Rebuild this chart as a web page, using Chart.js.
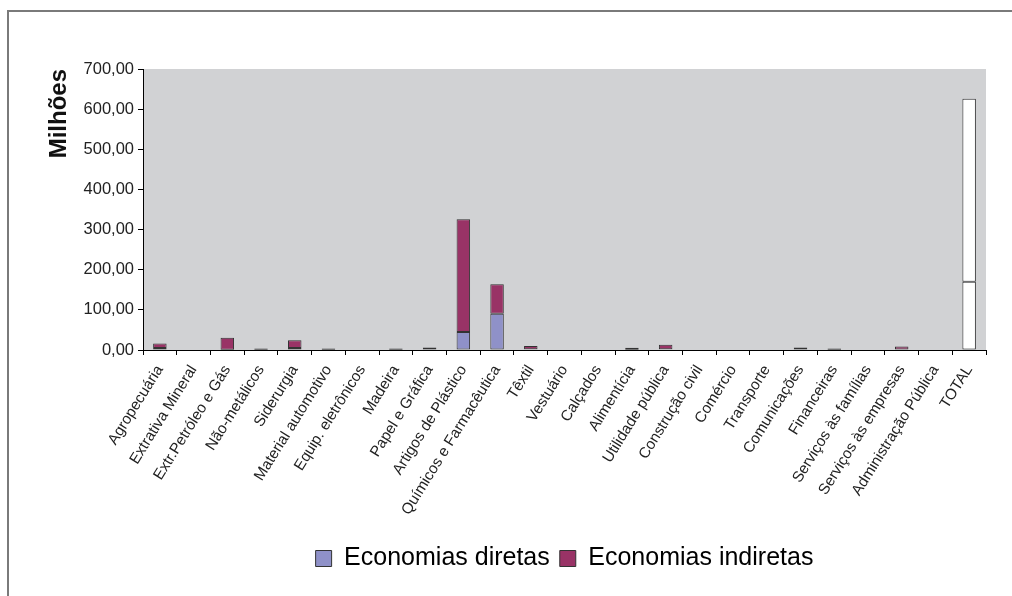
<!DOCTYPE html>
<html>
<head>
<meta charset="utf-8">
<script src="https://cdn.jsdelivr.net/npm/chart.js@4.4.0/dist/chart.umd.min.js"></script>
<style>
  html, body { margin: 0; padding: 0; background: #fff; }
  #wrap { position: relative; width: 1012px; height: 596px; overflow: hidden; }
  #frame { position: absolute; left: 7px; top: 10px; width: 1100px; height: 700px;
           border-top: 2px solid #7a7a7a; border-left: 2px solid #7a7a7a; }
  canvas { position: absolute; left: 0; top: 0; }
</style>
</head>
<body>
<div id="wrap">
  <div id="frame"></div>
  <canvas id="chart" width="1012" height="596"></canvas>
</div>
<script>
const setores = [
  'Agropecuária', 'Extrativa Mineral', 'Extr.Petróleo e Gás', 'Não-metálicos',
  'Siderurgia', 'Material automotivo', 'Equip. eletrônicos', 'Madeira',
  'Papel e Gráfica', 'Artigos de Plástico', 'Químicos e Farmacêutica', 'Têxtil',
  'Vestuário', 'Calçados', 'Alimentícia', 'Utilidade pública', 'Construção civil',
  'Comércio', 'Transporte', 'Comunicações', 'Financeiras', 'Serviços às famílias',
  'Serviços às empresas', 'Administração Pública', 'TOTAL'
];
// valores em milhões
const diretas = [5, 0, 0.5, 0.5, 5, 0.5, 0, 0.5, 1, 45, 90, 2, 0, 0, 0.5, 2, 0, 0, 0, 1, 0.5, 0, 1, 0, 170];
const indiretas = [11, 0, 30, 3, 19, 3, 0, 3, 5, 281, 74, 8, 0, 0, 5, 11, 0, 0, 0, 5, 3.5, 0, 8, 0, 456];
const yTicks = [0, 100, 200, 300, 400, 500, 600, 700];

const corDireta = '#8f91c8';
const corIndireta = '#993366';
const ultimo = setores.length - 1;
const cores = (c) => setores.map((s, i) => i === ultimo ? '#ffffff' : c);

const fundoPlot = {
  id: 'fundoPlot',
  beforeDraw(chart) {
    const { ctx, chartArea: a } = chart;
    ctx.save();
    ctx.fillStyle = '#d1d2d4';
    ctx.fillRect(a.left, a.top, a.right - a.left, a.bottom - a.top);
    ctx.restore();
  }
};

Chart.defaults.font.family = '"Liberation Sans", Arial, sans-serif';
Chart.defaults.color = '#222';

new Chart(document.getElementById('chart'), {
  type: 'bar',
  data: {
    labels: setores,
    datasets: [
      {
        label: 'Economias diretas',
        data: diretas,
        backgroundColor: cores(corDireta),
        borderColor: '#333',
        borderWidth: 1,
        borderSkipped: false
      },
      {
        label: 'Economias indiretas',
        data: indiretas,
        backgroundColor: cores(corIndireta),
        borderColor: '#333',
        borderWidth: 1,
        borderSkipped: false
      }
    ]
  },
  options: {
    responsive: false,
    animation: false,
    layout: { padding: { left: 45, top: 69, right: 26, bottom: 15 } },
    datasets: { bar: { categoryPercentage: 1, barPercentage: 0.4 } },
    plugins: {
      tooltip: { enabled: false },
      legend: {
        position: 'bottom',
        fullSize: false,
        labels: {
          boxWidth: 16,
          boxHeight: 16,
          padding: 10,
          font: { size: 25 },
          color: '#222',
          generateLabels(chart) {
            return chart.data.datasets.map((d, i) => ({
              text: d.label,
              fillStyle: i === 0 ? corDireta : corIndireta,
              strokeStyle: '#333',
              lineWidth: 1,
              datasetIndex: i
            }));
          }
        }
      }
    },
    scales: {
      x: {
        stacked: true,
        grid: { drawOnChartArea: false, color: '#000', tickLength: 5, offset: true },
        border: { color: '#000', width: 1 },
        ticks: { font: { size: 15.2 }, color: '#222', minRotation: 58, maxRotation: 58, autoSkip: false, padding: 7 },
        afterFit(s) { s.height = 186; }
      },
      y: {
        stacked: true,
        min: 0,
        max: 700,
        afterBuildTicks(s) { s.ticks = yTicks.map(v => ({ value: v })); },
        grid: { drawOnChartArea: false, color: '#000', tickLength: 5 },
        border: { color: '#000', width: 1 },
        ticks: {
          font: { size: 16.5 },
          color: '#222',
          padding: 4,
          callback: (v) => v.toFixed(2).replace('.', ',')
        },
        title: {
          display: true,
          text: 'Milhões',
          align: 'end',
          font: { size: 24, weight: 'bold' },
          color: '#111',
          padding: 0
        },
        afterFit(s) { s.width = 98; }
      }
    }
  },
  plugins: [fundoPlot]
});
</script>
</body>
</html>
